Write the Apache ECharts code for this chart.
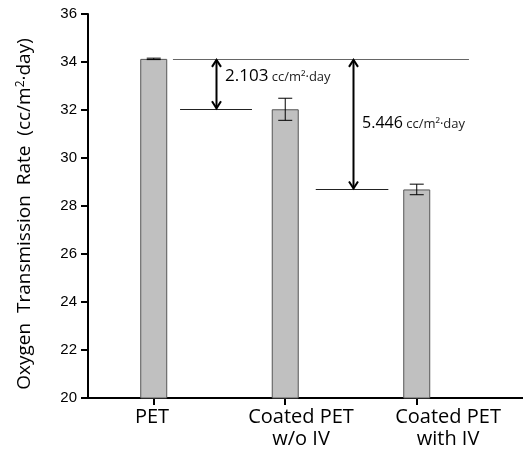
<!DOCTYPE html>
<html>
<head>
<meta charset="utf-8">
<script src="https://cdn.jsdelivr.net/npm/echarts@6/dist/echarts.min.js"></script>
<style>html,body{margin:0;padding:0;background:#fff}#c{width:523px;height:450px}</style>
</head>
<body>
<div id="c"></div>
<script>
// ---- data ----
var categories = ['PET', 'Coated PET\nw/o IV', 'Coated PET\nwith IV'];
var positions = [0.5, 1.5, 2.5];
var labelPositions = [0.487, 1.62, 2.738];
var values = [34.13, 32.03, 28.69];
var errors = [0.03, 0.46, 0.22];
var yTicks = [20, 22, 24, 26, 28, 30, 32, 34, 36];
// reference lines: [xStart, xEnd, y]
var refLines = [[0.646, 2.897, 34.13], [0.70, 1.247, 32.03], [1.732, 2.284, 28.69]];
// arrows: [x, yFrom, yTo]
var arrows = [[0.973, 34.13, 32.03], [2.015, 34.13, 28.69]];
// difference labels: [x, y, value]
var diffLabels = [[1.042, 33.42, '2.103'], [2.084, 31.46, '5.446']];

var chart = echarts.init(document.getElementById('c'));
var FONT = 'Open Sans';

var barData = positions.map(function (p, i) { return [p, values[i]]; });
var errData = positions.map(function (p, i) { return [p, values[i], errors[i]]; });

chart.setOption({
  animation: false,
  grid: { left: 88, right: 0, top: 14, bottom: 52 },
  xAxis: {
    type: 'value', min: 0, max: 3.308,
    axisLine: { show: true, lineStyle: { color: '#000', width: 2 } },
    axisTick: { show: true, length: 7, customValues: positions, lineStyle: { color: '#000', width: 2 } },
    axisLabel: {
      customValues: labelPositions, margin: 8, color: '#000', fontFamily: FONT, fontSize: 20, lineHeight: 22,
      formatter: function (v) { var i = labelPositions.indexOf(v); return i >= 0 ? categories[i] : ''; }
    },
    splitLine: { show: false }
  },
  yAxis: {
    type: 'value', min: yTicks[0], max: yTicks[yTicks.length - 1], interval: 2,
    name: 'Oxygen  Transmission  Rate  (cc/m{sup|2}·day)',
    nameLocation: 'middle', nameGap: 53, nameRotate: 90,
    nameTextStyle: {
      color: '#000', fontFamily: FONT, fontSize: 19, padding: [0, 16, 0, 0],
      rich: { sup: { fontSize: 12, verticalAlign: 'top', padding: [0, 0, 8, 0], fontFamily: FONT, color: '#000' } }
    },
    axisLine: { show: true, lineStyle: { color: '#000', width: 2 } },
    axisTick: { show: true, length: 7, lineStyle: { color: '#000', width: 2 } },
    axisLabel: { margin: 11, color: '#000', fontFamily: 'Liberation Sans', fontSize: 15 },
    splitLine: { show: false }
  },
  series: [
    {
      type: 'bar', data: barData, barWidth: 27,
      itemStyle: { color: '#c0c0c0', borderColor: '#555', borderWidth: 1 }
    },
    {
      type: 'custom', data: errData,
      renderItem: function (params, api) {
        var x = api.value(0), y = api.value(1), e = api.value(2);
        var t = api.coord([x, y + e]), b = api.coord([x, y - e]);
        var w = 7;
        var st = { stroke: '#000', lineWidth: 1 };
        return { type: 'group', children: [
          { type: 'line', shape: { x1: t[0], y1: t[1], x2: b[0], y2: b[1] }, style: st },
          { type: 'line', shape: { x1: t[0] - w, y1: t[1], x2: t[0] + w, y2: t[1] }, style: st },
          { type: 'line', shape: { x1: b[0] - w, y1: b[1], x2: b[0] + w, y2: b[1] }, style: st }
        ] };
      },
      z: 5
    },
    {
      type: 'custom', data: refLines,
      renderItem: function (params, api) {
        var a = api.coord([api.value(0), api.value(2)]), b = api.coord([api.value(1), api.value(2)]);
        return { type: 'line', shape: { x1: a[0], y1: Math.round(a[1]) + 0.5, x2: b[0], y2: Math.round(b[1]) + 0.5 },
          style: { stroke: params.dataIndex === 0 ? '#666' : '#222', lineWidth: 1 } };
      },
      z: 4
    },
    {
      type: 'custom', data: arrows,
      renderItem: function (params, api) {
        var t = api.coord([api.value(0), api.value(1)]), b = api.coord([api.value(0), api.value(2)]);
        var x = Math.round(t[0]) + 0.5, hw = 4.5, hl = 8;
        var st = { stroke: '#000', lineWidth: 2, fill: null, lineJoin: 'miter' };
        return { type: 'group', children: [
          { type: 'line', shape: { x1: x, y1: t[1] + 1, x2: x, y2: b[1] - 1 }, style: st },
          { type: 'polyline', shape: { points: [[x - hw, t[1] + hl], [x, t[1] + 1], [x + hw, t[1] + hl]] }, style: st },
          { type: 'polyline', shape: { points: [[x - hw, b[1] - hl], [x, b[1] - 1], [x + hw, b[1] - hl]] }, style: st }
        ] };
      },
      z: 6
    },
    {
      type: 'custom', data: diffLabels,
      renderItem: function (params, api) {
        var p = api.coord([api.value(0), api.value(1)]);
        var big = params.dataIndex === 0 ? 17 : 16;
        return { type: 'text', x: p[0], y: p[1], style: {
          text: '{a|' + diffLabels[params.dataIndex][2] + '} {b|cc/m²·day}',
          verticalAlign: 'middle', align: 'left',
          rich: {
            a: { fontSize: big, fontFamily: FONT, fill: '#000', color: '#000' },
            b: { fontSize: 13, fontFamily: FONT, fill: '#222', color: '#222', padding: [3, 0, 0, 0] }
          }
        } };
      },
      z: 7
    }
  ]
});
</script>
</body>
</html>
